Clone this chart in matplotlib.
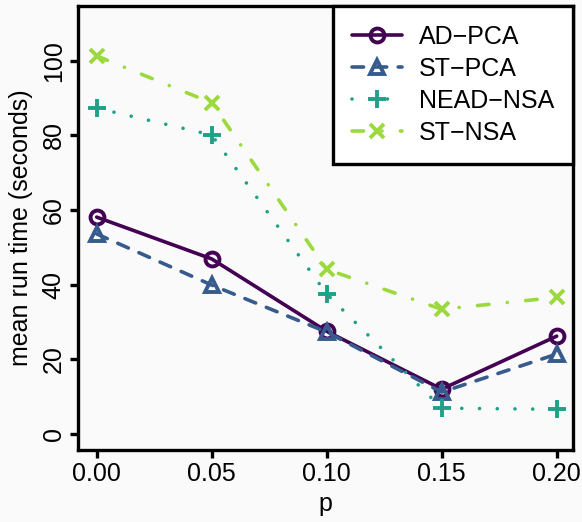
import matplotlib
matplotlib.use("Agg")
import matplotlib.pyplot as plt

plt.rcParams["font.family"] = ["Liberation Sans", "DejaVu Sans"]

# mean run time (seconds) by contamination proportion p
p = [0.00, 0.05, 0.10, 0.15, 0.20]
ad_pca = [58.1, 46.9, 27.5, 12.0, 26.2]
st_pca = [53.6, 39.9, 27.3, 11.2, 21.4]
nead_nsa = [87.3, 80.1, 37.5, 6.9, 6.6]
st_nsa = [101.3, 88.7, 44.1, 33.4, 36.6]
labels = ["AD\u2212PCA", "ST\u2212PCA", "NEAD\u2212NSA", "ST\u2212NSA"]
x_ticks = [0.00, 0.05, 0.10, 0.15, 0.20]
y_ticks = [0, 20, 40, 60, 80, 100]

cmap = plt.get_cmap("viridis")
colors = [cmap(v) for v in (0.0, 0.283, 0.567, 0.85)]

fig = plt.figure(figsize=(5.82, 5.22), dpi=100, facecolor="#fafafa")
ax = fig.add_axes([0.1345, 0.138, 0.8505, 0.850])
ax.set_facecolor("#fafafa")

lw = 2.6
styles = [
    dict(marker="o", linestyle="-", ms=10),
    dict(marker="^", linestyle=(0, (3.2, 3.2)), ms=10),
    dict(marker="+", linestyle=(0, (0.01, 4.9)), ms=13),
    dict(marker="x", linestyle=(0, (3.2, 5.1, 0.01, 5.1)), ms=10),
]
series = [ad_pca, st_pca, nead_nsa, st_nsa]

for vals, lab, col, st in zip(series, labels, colors, styles):
    ax.plot(p, vals, color=col, lw=lw, label=lab,
            marker=st["marker"], linestyle=st["linestyle"],
            markersize=st["ms"], markeredgewidth=2.8, markerfacecolor="none",
            dash_capstyle="round", solid_capstyle="round")

ax.set_xlim(-0.008, 0.2072)
ax.set_ylim(-4.3, 114.6)
ax.set_xticks(x_ticks)
ax.set_xticklabels([f"{v:.2f}" for v in x_ticks])
ax.set_yticks(y_ticks)
ax.set_yticklabels([str(v) for v in y_ticks], rotation=90, va="center")

for s in ax.spines.values():
    s.set_linewidth(2.4)
ax.tick_params(length=6, width=2.4, labelsize=18, pad=3)
ax.set_xlabel("p", fontsize=18, labelpad=4)
ax.set_ylabel("mean run time (seconds)", fontsize=18, labelpad=6)

leg = ax.legend(loc="upper right", fontsize=18, frameon=True, fancybox=False,
                edgecolor="black", facecolor="white", framealpha=1,
                handlelength=2.0, handletextpad=0.7, labelspacing=0.32,
                borderpad=0.75, borderaxespad=0)
leg.get_frame().set_linewidth(2.4)

fig.savefig("out.png", dpi=100, facecolor=fig.get_facecolor())
